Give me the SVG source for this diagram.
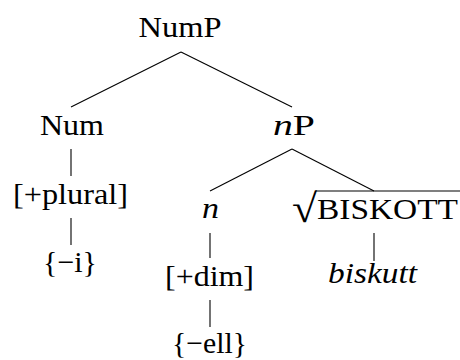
<svg xmlns="http://www.w3.org/2000/svg" width="460" height="360" viewBox="0 0 460 360">
<style>
.e line{stroke:#000;stroke-width:1.1}
.s{font-family:"Liberation Serif","Noto Serif","DejaVu Serif","Times New Roman",serif;font-size:30px;fill:#000}
.it{font-style:italic}
</style>
<rect width="460" height="360" fill="#fff"/>
<g id="edges" class="e">
<line x1="181" y1="52" x2="71" y2="107"/>
<line x1="181" y1="52" x2="292" y2="107"/>
<line x1="71" y1="149" x2="71" y2="176"/>
<line x1="71" y1="218" x2="71" y2="245"/>
<line x1="292" y1="149" x2="210" y2="191"/>
<line x1="292" y1="149" x2="374" y2="191"/>
<line x1="210" y1="233" x2="210" y2="258"/>
<line x1="210" y1="300" x2="210" y2="327"/>
<line x1="374" y1="233" x2="374" y2="261"/>
</g>
<g id="NumP"><text class="s" x="138.5" y="37" textLength="83" lengthAdjust="spacingAndGlyphs">NumP</text></g>
<g id="Num"><text class="s" x="40" y="135" textLength="64" lengthAdjust="spacingAndGlyphs">Num</text></g>
<g id="plural"><text class="s" x="13" y="204" textLength="115" lengthAdjust="spacingAndGlyphs">[+plural]</text></g>
<g id="suffix-i"><text class="s" x="43" y="272" textLength="54" lengthAdjust="spacingAndGlyphs">{−i}</text></g>
<g id="nP"><text class="s" x="273" y="135" textLength="42" lengthAdjust="spacingAndGlyphs"><tspan class="it">n</tspan>P</text></g>
<g id="n-head"><text class="s it" x="202" y="218" textLength="17" lengthAdjust="spacingAndGlyphs">n</text></g>
<g id="dim"><text class="s" x="165" y="286" textLength="89" lengthAdjust="spacingAndGlyphs">[+dim]</text></g>
<g id="suffix-ell"><text class="s" x="172" y="353" textLength="75" lengthAdjust="spacingAndGlyphs">{−ell}</text></g>
<g id="root">
<text class="s" x="292" y="222" style="font-size:40px" textLength="25" lengthAdjust="spacingAndGlyphs">√</text>
<line x1="316" y1="191" x2="460" y2="191" stroke="#000" stroke-width="1.1"/>
<text class="s" x="317" y="219" textLength="141" lengthAdjust="spacingAndGlyphs">BISKOTT</text>
</g>
<g id="biskutt"><text class="s it" x="328" y="283" textLength="89" lengthAdjust="spacingAndGlyphs">biskutt</text></g>
</svg>
